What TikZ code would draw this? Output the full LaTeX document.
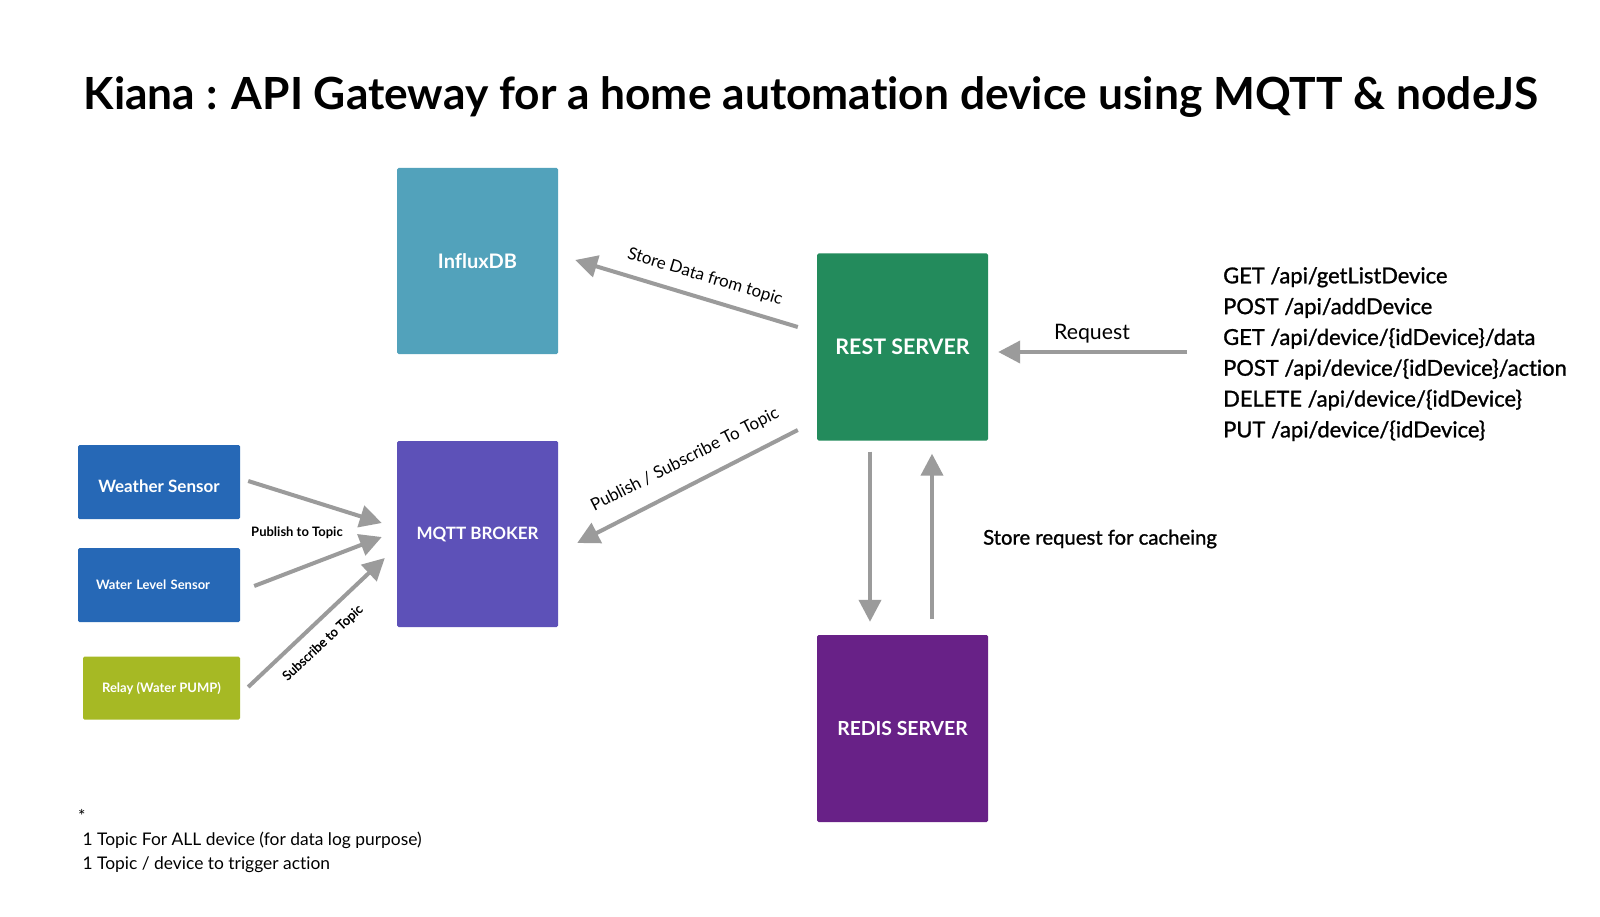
\documentclass[tikz,border=0pt]{standalone}
\usepackage{fontspec}
\setmainfont{Lato}[Ligatures=CommonOff]
\newfontfamily\medfont{Lato}[FakeBold=1.2, Ligatures=CommonOff]
\usepackage{tikz}
\usetikzlibrary{arrows.meta,calc,positioning}
\tikzset{
  box/.style = {align=center, inner sep=2pt, rectangle, rounded corners=1.5pt, text=white,
  draw=none, text centered, font=\bfseries\fontsize{20}{24}\selectfont},
  box_big/.style = {box, minimum width=161pt, minimum height=186pt},
  box_srv/.style = {box, minimum width=171pt, minimum height=187pt},
  box_dev/.style = {box, minimum width=162pt, minimum height=74pt, font=\bfseries\fontsize{13}{16}\selectfont},
  note/.style = {inner sep=0pt, black, font=\fontsize{17}{20}\selectfont}
}
\definecolor{my_teal}{RGB}{82, 162, 187}
\definecolor{my_green}{RGB}{35, 139, 92}
\definecolor{my_indigo}{RGB}{93, 81, 184}
\definecolor{my_plum}{RGB}{104, 33, 135}
\definecolor{my_blue}{RGB}{38, 104, 182}
\definecolor{my_olive}{RGB}{166, 185, 36}
\definecolor{my_grey}{RGB}{155, 155, 155}

\begin{document}
\begin{tikzpicture}[x=1pt, y=-1pt,
        	flow/.style={draw=my_grey, line width=4pt, -{Triangle[length=22pt, width=22pt]}},
	        teal/.style={fill=my_teal},
	        green/.style={fill=my_green},
	        indigo/.style={fill=my_indigo},
	        plum/.style={fill=my_plum},
	        blue/.style={fill=my_blue},
	        olive/.style={fill=my_olive}]
	        \useasboundingbox (0,0) rectangle (1600,917);
	        \fill[white] (0,0) rectangle (1600,917);
	        \node (title) [note, font=\bfseries\fontsize{44.3}{50}\selectfont] at (811,97)
	            {Kiana : API Gateway for a home automation device using MQTT \& nodeJS};
	        % boxes
	        \node (influx) [box_big, teal] at (477.5,261) {InfluxDB};
	        \node (mqtt) [box_big, indigo, font=\bfseries\fontsize{17}{20}\selectfont] at (477.5,534) {MQTT BROKER};
	        \node (rest) [box_srv, green, font=\bfseries\fontsize{21.4}{24}\selectfont] at (902.5,347) {REST SERVER};
	        \node (redis) [box_srv, plum, font=\bfseries\fontsize{19.4}{24}\selectfont] at (902.5,728.5) {REDIS SERVER};
	        \node (weather) [box_dev, blue, font=\bfseries\fontsize{17}{20}\selectfont,
	            text height=20pt, text depth=0pt] at (159,482) {Weather Sensor};
	        \node (water) [box_dev, blue, text width=126pt, align=left] at (159,585) {Water Level Sensor};
	        \node (relay) [box_dev, olive, minimum width=157pt, minimum height=63pt] at (161.5,688) {Relay (Water PUMP)};
	        % arrows
	        \draw[flow] ($(weather.east)+(8,-1)$) -- ($(mqtt.west)+(-15,-11)$);
	        \draw[flow] ($(water.east)+(14,1)$) -- ($(mqtt.west)+(-15,3)$);
	        \draw[flow] ($(relay.east)+(8,-1)$) -- ($(mqtt.west)+(-12,24)$);
	        \draw[flow] ($(rest.west)+(-19,-20)$) -- ($(influx.east)+(17,-1)$);
	        \draw[flow] ($(rest.west)+(-19,83)$) -- ($(mqtt.east)+(19,9)$);
	        \draw[flow] ($(rest.south)+(-32.5,11)$) -- ($(redis.north)+(-32.5,-13)$);
	        \draw[flow] ($(redis.north)+(29.5,-16)$) -- ($(rest.south)+(29.5,13)$);
	        \coordinate (client) at (1187,352);
	        \draw[flow] (client) -- ($(rest.east)+(10,5)$);
	        % labels
	        \node (pub) [note, font=\bfseries\fontsize{13}{16}\selectfont] at (297,533) {Publish to Topic};
	        \node (sub) [note, rotate=43, font=\medfont\fontsize{13}{16}\selectfont] at (323,643) {Subscribe to Topic};
	        \node (store) [note, rotate=-16.7] at (705,277) {Store Data from topic};
	        \node (pubsub) [note, rotate=27] at (685,460) {Publish / Subscribe To Topic};
	        \node (req) [note, font=\fontsize{21.3}{24}\selectfont] at (1092,334) {Request};
	        \node (cache) [note, anchor=west, font=\medfont\fontsize{20.3}{24}\selectfont] at (983,539) {Store request for cacheing};
	        \node (api) [note, anchor=north west, align=left, font=\medfont\fontsize{21.9}{30.8}\selectfont] at (1223,267)
	            {GET /api/getListDevice\\POST /api/addDevice\\GET /api/device/\{idDevice\}/data\\
	             POST /api/device/\{idDevice\}/action\\DELETE /api/device/\{idDevice\}\\PUT /api/device/\{idDevice\}};
	        \node (foot) [note, anchor=north west, align=left, font=\fontsize{17.4}{23.5}\selectfont] at (78,809)
	            {*\\\ 1 Topic For ALL device (for data log purpose)\\\ 1 Topic / device to trigger action};
        \end{tikzpicture}
\end{document}
